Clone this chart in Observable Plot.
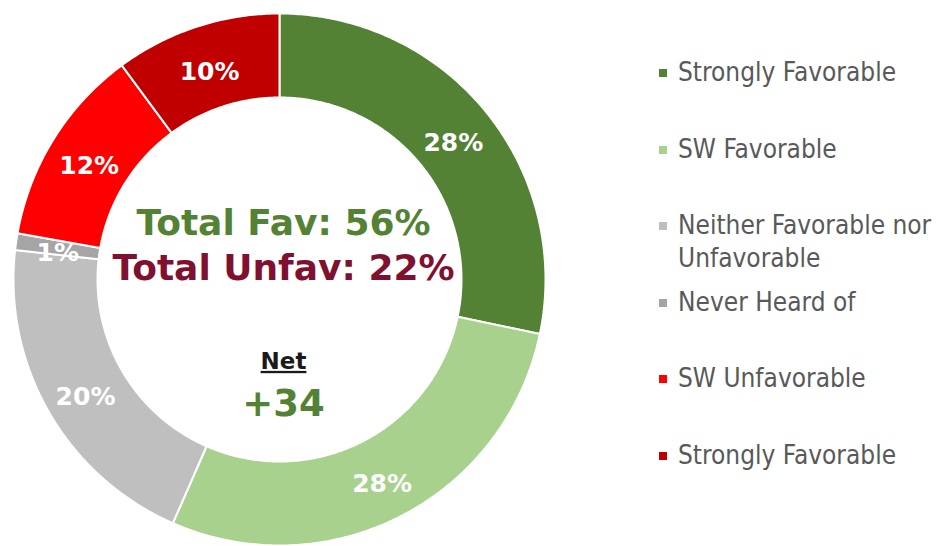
<!DOCTYPE html>
<html>
<head>
<meta charset="utf-8">
<script src="https://cdn.jsdelivr.net/npm/d3@7"></script>
<script src="https://cdn.jsdelivr.net/npm/@observablehq/plot@0.6"></script>
<style>
  html, body { margin: 0; padding: 0; background: #ffffff; }
  #wrap { position: relative; width: 937px; height: 546px; overflow: hidden; }
  #chart { position: absolute; left: 0; top: 0; }
  #legend { position: absolute; left: 659px; top: 56px; font-family: "DejaVu Sans Condensed", "DejaVu Sans", sans-serif; font-size: 26px; color: #595959; }
  .item { position: relative; height: 76.6px; padding-left: 19px; line-height: 33px; }
  .sw { position: absolute; left: 0; top: 13px; width: 8px; height: 8px; }
</style>
</head>
<body>
<div id="wrap">
  <div id="chart"></div>
  <div id="legend"></div>
</div>
<script>
// ---- data ----
const keys = ["Strongly Favorable", "SW Favorable", "Neither Favorable nor Unfavorable", "Never Heard of", "SW Unfavorable", "Strongly Unfavorable"];
const legendLabels = ["Strongly Favorable", "SW Favorable", "Neither Favorable nor Unfavorable", "Never Heard of", "SW Unfavorable", "Strongly Favorable"];
const values = [28, 28, 20, 1, 12, 10];
const colors = ["#548235", "#A9D18E", "#BFBFBF", "#A5A5A5", "#FF0000", "#C00000"];
const favKeys = ["Strongly Favorable", "SW Favorable"];
const unfavKeys = ["SW Unfavorable", "Strongly Unfavorable"];

// ---- layout ----
const W = 937, H = 546;
const cx = 279, cy = 279, R = 266, innerRatio = 182 / 266;

const totalOf = ks => d3.sum(keys.map((k, i) => ks.includes(k) ? values[i] : 0));
const fav = totalOf(favKeys), unfav = totalOf(unfavKeys), net = fav - unfav;

const arcs = d3.pie().sort(null).value(d => d.value)(keys.map((k, i) => ({key: k, value: values[i]})));

// polygon outline of each ring slice in unit coordinates (angle 0 at top, clockwise)
const pts = [];
for (const a of arcs) {
  const n = Math.max(4, Math.ceil((a.endAngle - a.startAngle) / 0.01));
  const ring = [];
  for (let j = 0; j <= n; j++) {
    const t = a.startAngle + (a.endAngle - a.startAngle) * j / n;
    ring.push({key: a.data.key, x: Math.sin(t), y: Math.cos(t)});
  }
  for (let j = n; j >= 0; j--) {
    const t = a.startAngle + (a.endAngle - a.startAngle) * j / n;
    ring.push({key: a.data.key, x: innerRatio * Math.sin(t), y: innerRatio * Math.cos(t)});
  }
  ring.push(ring[0]);
  pts.push(...ring);
}
const labels = arcs.map(a => {
  const m = (a.startAngle + a.endAngle) / 2, rr = (1 + innerRatio) / 2;
  return {key: a.data.key, x: rr * Math.sin(m), y: rr * Math.cos(m), text: a.data.value + "%"};
});

const bold = "DejaVu Sans, Verdana, sans-serif";
const chart = Plot.plot({
  width: W, height: H, margin: 0,
  x: {domain: [-cx / R, (W - cx) / R], axis: null},
  y: {domain: [-(H - cy) / R, cy / R], axis: null},
  color: {domain: keys, range: colors},
  marks: [
    Plot.line(pts, {x: "x", y: "y", z: "key", fill: "key", stroke: "white", strokeWidth: 2, curve: "linear"}),
    Plot.text(labels, {x: "x", y: "y", text: "text", fill: "white", fontSize: 25, fontWeight: "bold", fontFamily: bold, dy: 5}),
    Plot.text([`Total Fav: ${fav}%`], {x: 0, y: 0, text: d => d, dx: 4, dy: -56, fontSize: 36, fontWeight: "bold", fontFamily: bold, fill: "#548235"}),
    Plot.text([`Total Unfav: ${unfav}%`], {x: 0, y: 0, text: d => d, dx: 4, dy: -11, fontSize: 36, fontWeight: "bold", fontFamily: bold, fill: "#7F1030"}),
    Plot.text(["Net"], {x: 0, y: 0, text: d => d, dx: 4, dy: 82, fontSize: 23, fontWeight: "bold", fontFamily: bold, fill: "#1a1a1a"}),
    Plot.text([(net >= 0 ? "+" : "") + net], {x: 0, y: 0, text: d => d, dx: 4, dy: 125, fontSize: 37, fontWeight: "bold", fontFamily: bold, fill: "#548235"})
  ]
});
d3.select(chart).selectAll("text").filter(function() { return this.textContent === "Net"; }).style("text-decoration", "underline");
document.getElementById("chart").appendChild(chart);

// ---- legend ----
const leg = d3.select("#legend");
legendLabels.forEach((lab, i) => {
  const it = leg.append("div").attr("class", "item");
  it.append("span").attr("class", "sw").style("background", colors[i]);
  const parts = lab === "Neither Favorable nor Unfavorable" ? ["Neither Favorable nor", "Unfavorable"] : [lab];
  parts.forEach((p, k) => { if (k) it.append("br"); it.append("span").text(p); });
});
</script>
</body>
</html>
